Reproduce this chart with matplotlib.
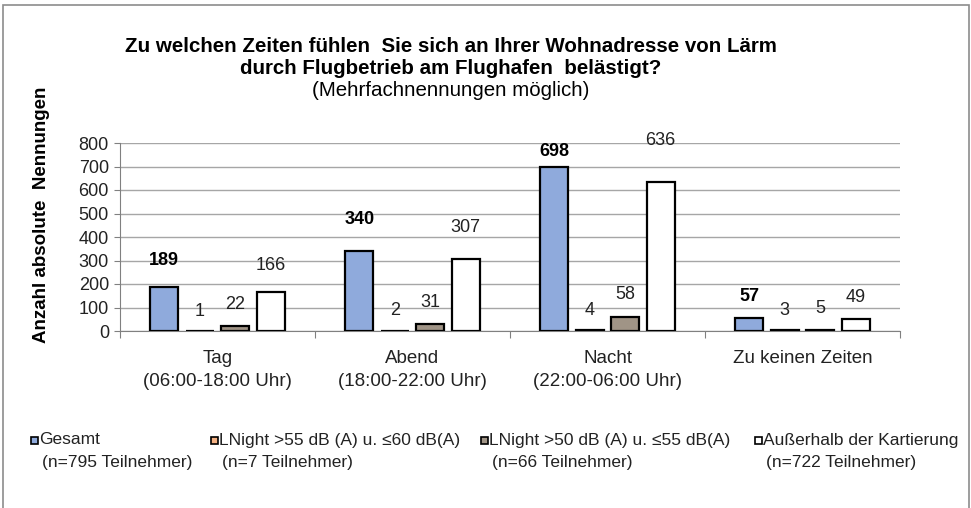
import matplotlib
matplotlib.use("Agg")
import matplotlib.pyplot as plt
from matplotlib.patches import Rectangle
import numpy as np

plt.rcParams['font.family'] = ['Liberation Sans', 'DejaVu Sans']

categories = ["Tag\n(06:00-18:00 Uhr)", "Abend\n(18:00-22:00 Uhr)",
              "Nacht\n(22:00-06:00 Uhr)", "Zu keinen Zeiten"]
series_names = ["Gesamt\n(n=795 Teilnehmer)",
                "LNight >55 dB (A) u. \u226460 dB(A)\n(n=7 Teilnehmer)",
                "LNight >50 dB (A) u. \u226455 dB(A)\n(n=66 Teilnehmer)",
                "Au\u00dferhalb der Kartierung\n(n=722 Teilnehmer)"]
gesamt = [189, 340, 698, 57]
lnight_55_60 = [1, 2, 4, 3]
lnight_50_55 = [22, 31, 58, 5]
ausserhalb = [166, 307, 636, 49]
series = [gesamt, lnight_55_60, lnight_50_55, ausserhalb]

colors = ["#8FAADC", "#F4B183", "#A09486", "#FFFFFF"]
# label distance above bar top (px), as placed in the original
label_off = [[26, 32, 15, 21], [19, 20, 20, 20], [21, 21, 23, 21], [26, 31, 41, 22]]

W, H = 971, 508
fig = plt.figure(figsize=(W / 100, H / 100), dpi=100)
fig.patches.append(Rectangle((3 / W, -0.1), 966 / W, 1.1 - 5 / H, transform=fig.transFigure,
                             fill=False, edgecolor="#8C8C8C", lw=1.2))

ax = fig.add_axes([120 / W, 1 - 331 / H, 780 / W, 188 / H])
x = np.arange(len(categories))
width = 0.145
step = 0.182
for i, vals in enumerate(series):
    pos = x + (i - 1.5) * step
    ax.bar(pos, vals, width, color=colors[i], edgecolor="black", lw=1.6, zorder=3)
    for j, v in enumerate(vals):
        ax.annotate(str(v), (pos[j], v), xytext=(0, label_off[i][j] * 0.72),
                    textcoords="offset points", ha="center", va="center",
                    fontsize=13, color="#222222" if i else "black",
                    fontweight="bold" if i == 0 else "normal")

ax.set_ylim(0, 800)
ax.set_xlim(-0.5, 3.5)
ax.set_yticks(range(0, 801, 100))
ax.tick_params(axis="y", labelsize=13, colors="#808080", labelcolor="#222222",
               length=4, pad=4)
ax.set_xticks(np.arange(-0.5, 4, 1))
ax.set_xticklabels([])
ax.tick_params(axis="x", which="major", colors="#808080", length=5)
ax.set_xticks(x, minor=True)
ax.set_xticklabels(categories, minor=True, fontsize=13.5, color="#222222", linespacing=1.45)
ax.tick_params(axis="x", which="minor", length=0, pad=13.5)
ax.grid(axis="y", color="#A6A6A6", lw=1, zorder=0)
for s in ["top", "right"]:
    ax.spines[s].set_visible(False)
for s in ["left", "bottom"]:
    ax.spines[s].set_color("#808080")

fig.text(42 / W, 1 - 215 / H, "Anzahl absolute  Nennungen", rotation=90,
         ha="center", va="center", fontsize=13.5, fontweight="bold")
fig.text(451 / W, 1 - 46 / H, "Zu welchen Zeiten f\u00fchlen  Sie sich an Ihrer Wohnadresse von L\u00e4rm",
         ha="center", va="center", fontsize=14.8, fontweight="bold")
fig.text(451 / W, 1 - 68 / H, "durch Flugbetrieb am Flughafen  bel\u00e4stigt?",
         ha="center", va="center", fontsize=14.8, fontweight="bold")
fig.text(451 / W, 1 - 91 / H, "(Mehrfachnennungen m\u00f6glich)",
         ha="center", va="center", fontsize=14.8)

# legend, drawn by hand like the original layout
leg_x = [31, 211, 481, 755]
for i, name in enumerate(series_names):
    x0 = leg_x[i]
    fig.patches.append(Rectangle((x0 / W, 1 - 444 / H), 7 / W, 7 / H, transform=fig.transFigure,
                                 facecolor=colors[i], edgecolor="black", lw=1.2))
    first, second = name.split("\n")
    fig.text((x0 + 8) / W, 1 - 440 / H, first, ha="left", va="center", fontsize=12.5,
             color="#222222")
    fig.text((x0 + 11) / W, 1 - 462 / H, second, ha="left", va="center", fontsize=12.5,
             color="#222222")

fig.savefig("out.png", dpi=100)
